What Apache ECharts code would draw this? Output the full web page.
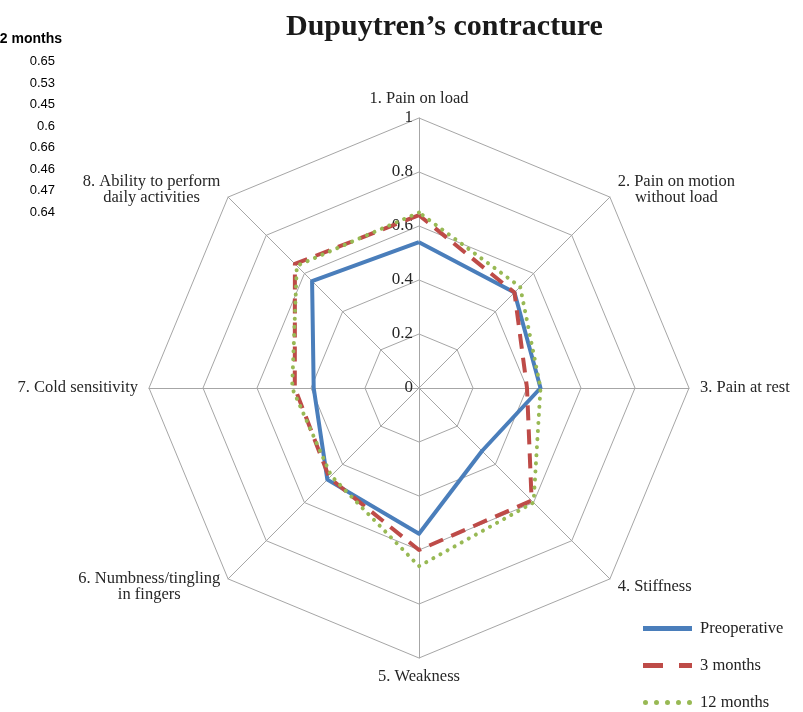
<!DOCTYPE html>
<html>
<head>
<meta charset="utf-8">
<script src="https://cdn.jsdelivr.net/npm/echarts@6/dist/echarts.min.js"></script>
<style>
html,body{margin:0;padding:0;background:#fff;}
#chart{width:803px;height:712px;}
</style>
</head>
<body>
<div id="chart"></div>
<script>
// Axes in clockwise order starting at the top
var categories = [
  '1. Pain on load',
  '2. Pain on motion\nwithout load',
  '3. Pain at rest',
  '4. Stiffness',
  '5. Weakness',
  '6. Numbness/tingling\nin fingers',
  '7. Cold sensitivity',
  '8. Ability to perform\ndaily activities'
];
var seriesNames = ['Preoperative', '3 months', '12 months'];
var preoperative = [0.54, 0.50, 0.45, 0.33, 0.54, 0.48, 0.39, 0.56];
var threeMonths  = [0.64, 0.50, 0.40, 0.59, 0.60, 0.47, 0.46, 0.65];
var twelveMonths = [0.65, 0.53, 0.45, 0.60, 0.66, 0.46, 0.47, 0.64];
var tickValues = [0, 0.2, 0.4, 0.6, 0.8, 1];
var tableHeader = '12 months';

// ECharts radar runs counter-clockwise: reorder to 1,8,7,...,2
var order = [0, 7, 6, 5, 4, 3, 2, 1];
function reorder(arr) { return order.map(function (i) { return arr[i]; }); }

var serif = '"Liberation Serif", "Times New Roman", serif';
var colors = ['#4A7EBB', '#BE4B48', '#98B954'];

var chart = echarts.init(document.getElementById('chart'));

var tableGraphics = [{
  type: 'text', x: 62, y: 32,
  style: { text: tableHeader, align: 'right', font: 'bold 14px "Liberation Sans", Arial, sans-serif', fill: '#000' }
}];
twelveMonths.forEach(function (v, i) {
  tableGraphics.push({
    type: 'text', x: 55, y: 55 + i * 21.5,
    style: { text: String(v), align: 'right', font: '13px "Liberation Sans", Arial, sans-serif', fill: '#000' }
  });
});

var option = {
  backgroundColor: '#fff',
  animation: false,
  title: {
    text: 'Dupuytren\u2019s contracture',
    left: 281, top: 7,
    textStyle: { fontFamily: serif, fontSize: 30, fontWeight: 'bold', color: '#1a1a1a' }
  },
  graphic: tableGraphics,
  legend: {
    orient: 'vertical',
    left: 643, top: 620,
    padding: 0,
    itemWidth: 49, itemHeight: 5,
    itemGap: 20,
    textStyle: { fontFamily: serif, fontSize: 16.5, color: '#222', padding: [0, 0, 0, 3] },
    itemStyle: { borderWidth: 0 },
    data: [
      { name: seriesNames[0], icon: 'path://M0,0H49V5H0Z', itemStyle: { color: colors[0], borderWidth: 0 } },
      { name: seriesNames[1], icon: 'path://M0,0H20V5H0Z M36,0H49V5H36Z', itemStyle: { color: colors[1], borderWidth: 0 } },
      { name: seriesNames[2], icon: 'path://M0,2.5a2.5,2.5 0 1,0 5,0a2.5,2.5 0 1,0 -5,0Z M11,2.5a2.5,2.5 0 1,0 5,0a2.5,2.5 0 1,0 -5,0Z M22,2.5a2.5,2.5 0 1,0 5,0a2.5,2.5 0 1,0 -5,0Z M33,2.5a2.5,2.5 0 1,0 5,0a2.5,2.5 0 1,0 -5,0Z M44,2.5a2.5,2.5 0 1,0 5,0a2.5,2.5 0 1,0 -5,0Z', itemStyle: { color: colors[2], borderWidth: 0 } }
    ]
  },
  radar: {
    center: [419, 388],
    radius: 270,
    startAngle: 90,
    shape: 'polygon',
    splitNumber: 5,
    indicator: reorder(categories).map(function (n) { return { name: n, min: 0, max: 1 }; }),
    axisNameGap: 11,
    axisName: {
      formatter: function (v) { return v.split('\n').map(function (l) { return '{c|' + l + '}'; }).join('\n'); },
      rich: { c: { align: 'center', fontFamily: serif, fontSize: 16.5, color: '#262626', lineHeight: 16 } }
    },
    axisLine: { lineStyle: { color: '#A6A6A6', width: 1 } },
    splitLine: { lineStyle: { color: '#A6A6A6', width: 1 } },
    splitArea: { show: false },
    axisTick: { show: false },
    axisLabel: { show: false }
  },
  polar: { center: [419, 388], radius: 270 },
  angleAxis: {
    type: 'value', startAngle: 90, min: 0, max: 360,
    axisLine: { show: false }, axisTick: { show: false }, axisLabel: { show: false }, splitLine: { show: false }
  },
  radiusAxis: {
    type: 'value', min: tickValues[0], max: tickValues[tickValues.length - 1], interval: tickValues[1] - tickValues[0],
    axisLine: { show: false }, axisTick: { show: false }, splitLine: { show: false },
    axisLabel: { fontFamily: serif, fontSize: 17, color: '#262626', margin: 6 }
  },
  series: [{
    type: 'radar',
    symbol: 'none',
    data: [
      { name: seriesNames[0], value: reorder(preoperative),
        lineStyle: { color: colors[0], width: 4, type: 'solid' }, itemStyle: { color: colors[0] } },
      { name: seriesNames[1], value: reorder(threeMonths),
        lineStyle: { color: colors[1], width: 4, type: [15, 9] }, itemStyle: { color: colors[1] } },
      { name: seriesNames[2], value: reorder(twelveMonths),
        lineStyle: { color: colors[2], width: 4, type: [0.1, 8], cap: 'round' }, itemStyle: { color: colors[2] } }
    ]
  }]
};
chart.setOption(option);
</script>
</body>
</html>
